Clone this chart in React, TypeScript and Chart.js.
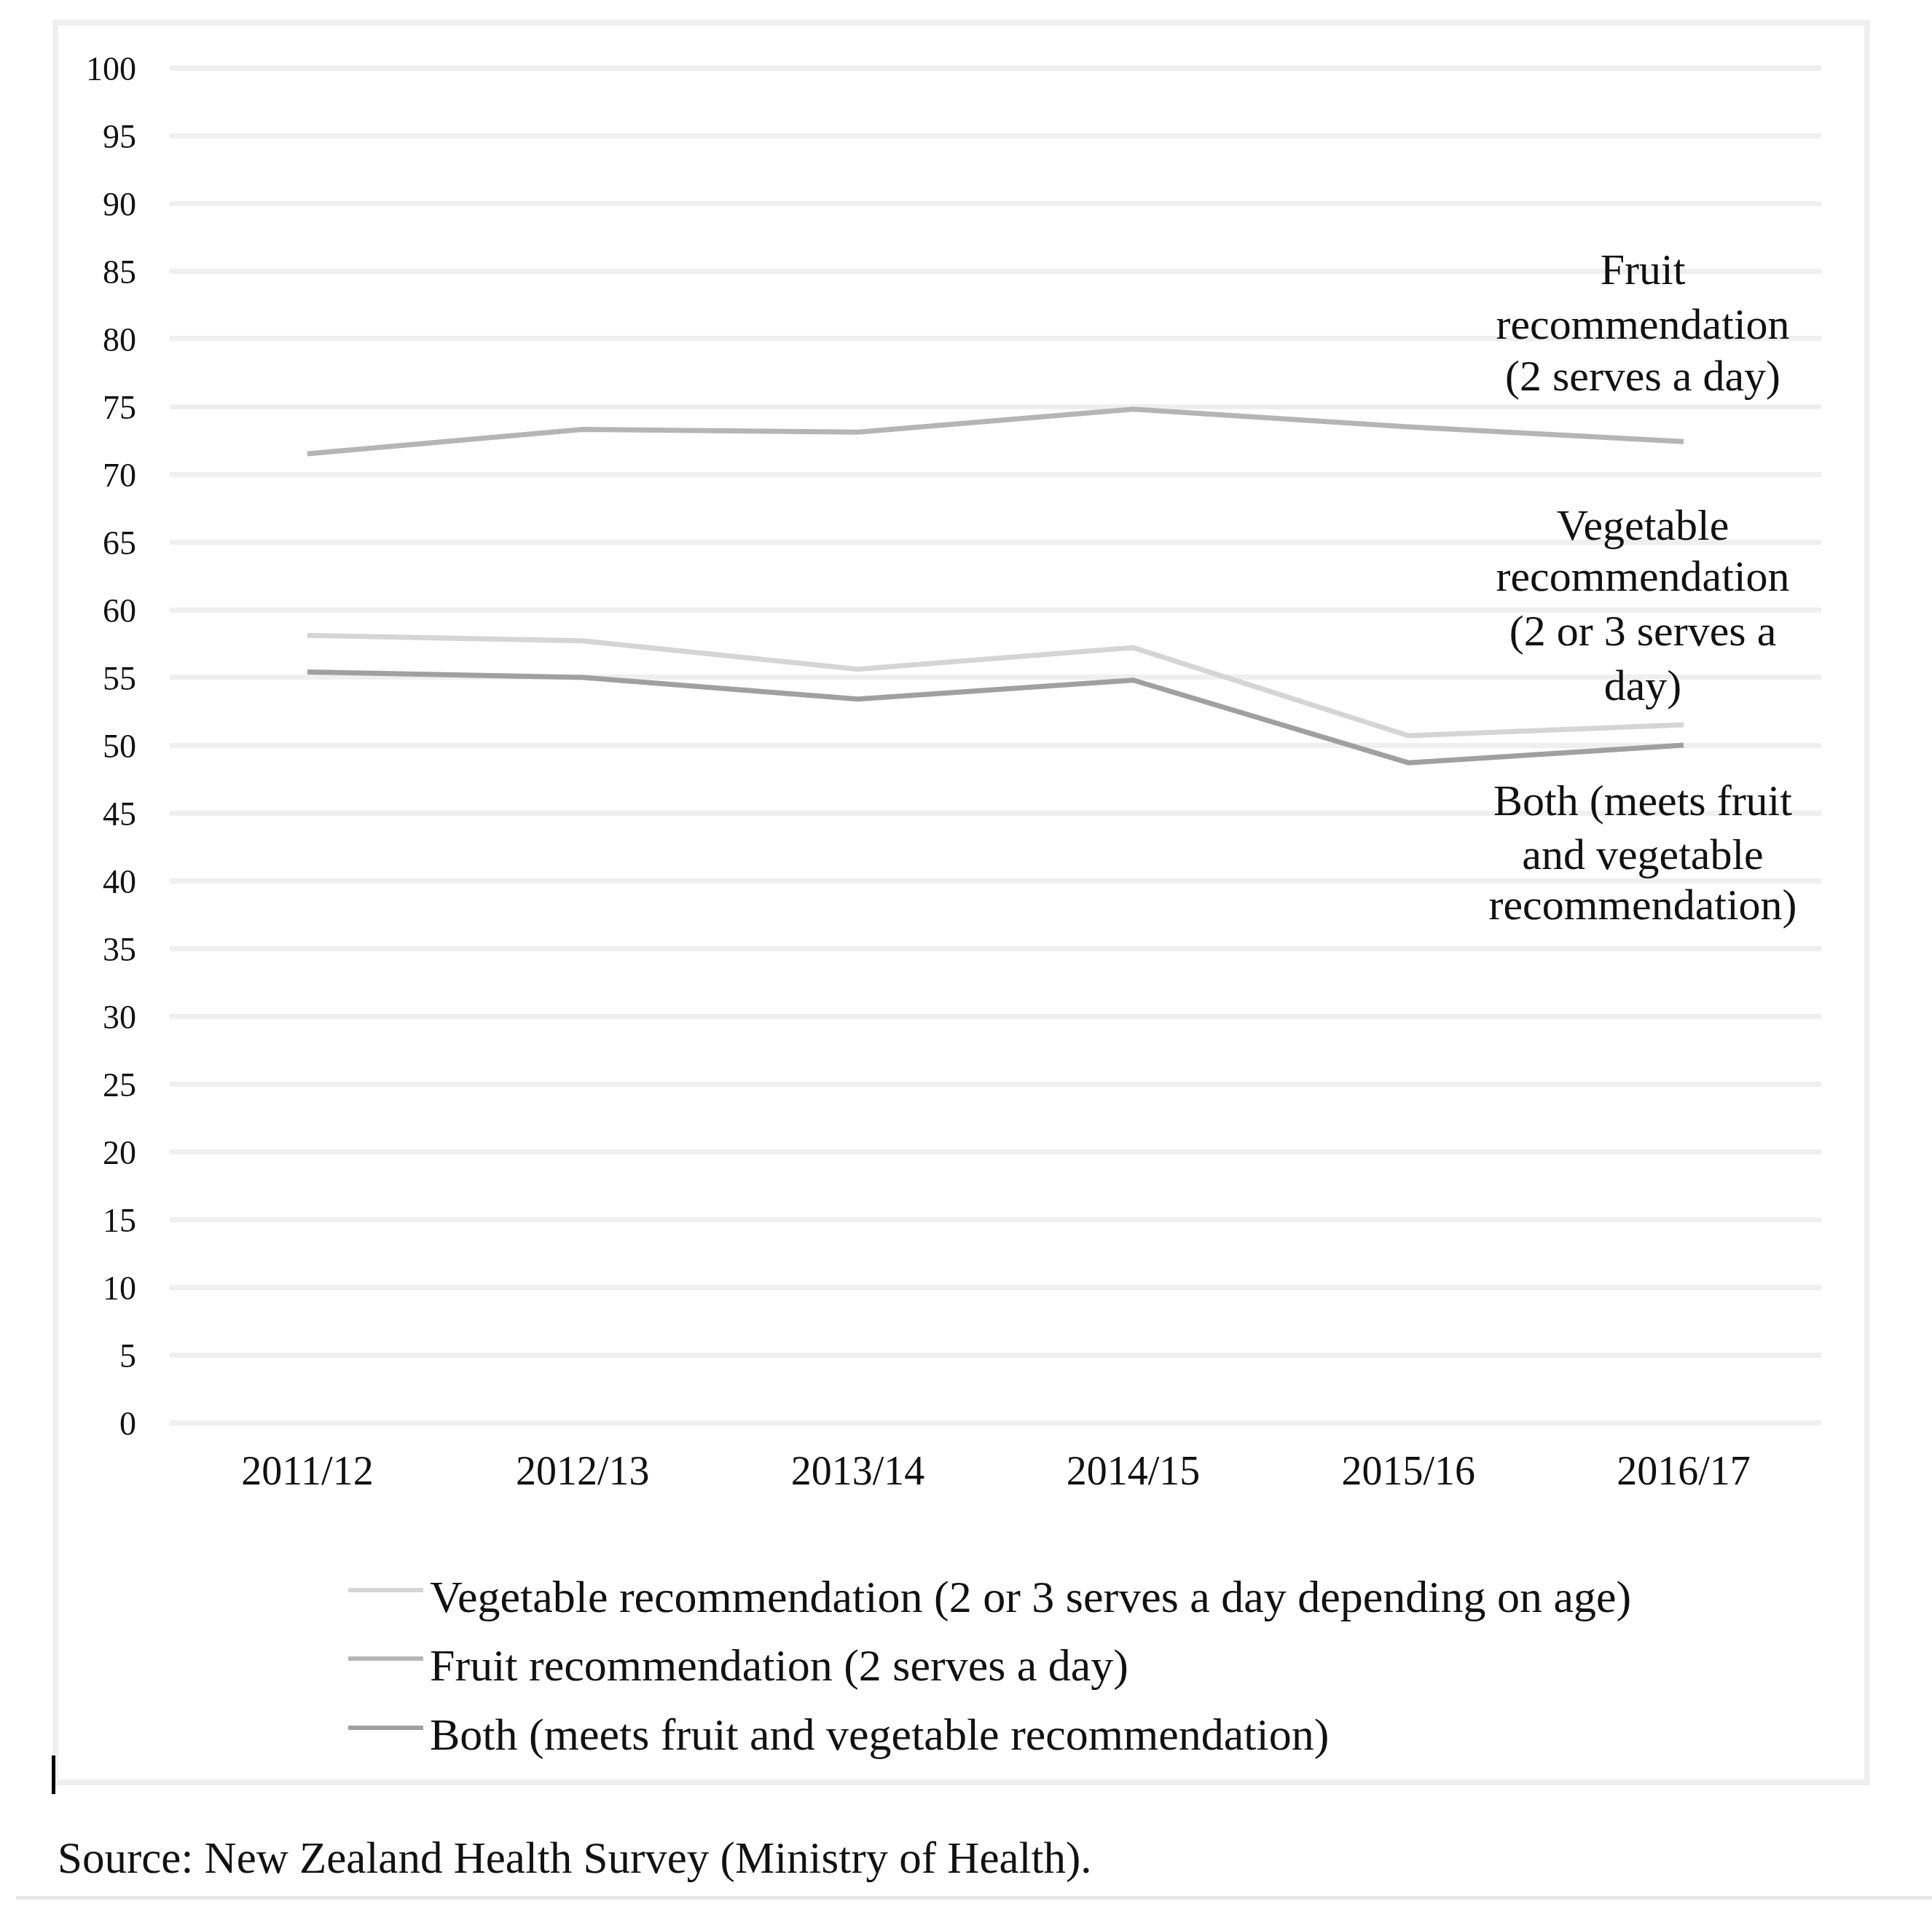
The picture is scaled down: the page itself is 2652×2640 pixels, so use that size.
import React, { useEffect, useRef } from 'react';
import { Chart, registerables } from 'chart.js';

Chart.register(...registerables);

// ---------- data ----------
const categories = ['2011/12', '2012/13', '2013/14', '2014/15', '2015/16', '2016/17'];
const vegetableValues = [58.1, 57.7, 55.6, 57.2, 50.7, 51.5];
const fruitValues = [71.5, 73.3, 73.1, 74.8, 73.5, 72.4];
const bothValues = [55.4, 55.0, 53.4, 54.8, 48.7, 50.0];
const seriesLabels = [
  'Vegetable recommendation (2 or 3 serves a day depending on age)',
  'Fruit recommendation (2 serves a day)',
  'Both (meets fruit and vegetable recommendation)',
];
const yMin = 0;
const yMax = 100;
const yStep = 5;
const fruitNote = ['Fruit', 'recommendation', '(2 serves a day)'];
const vegetableNote = ['Vegetable', 'recommendation', '(2 or 3 serves a', 'day)'];
const bothNote = ['Both (meets fruit', 'and vegetable', 'recommendation)'];
const sourceText = 'Source: New Zealand Health Survey (Ministry of Health).';

// ---------- styles ----------
const SERIF = '"Liberation Serif", "Times New Roman", Times, serif';
const W = 2652;
const H = 2640;
const COLORS = ['#d5d5d5', '#b5b5b5', '#a0a0a0'];

const decorPlugin = {
  id: 'decor',
  beforeDraw(chart: any) {
    const ctx = chart.ctx;
    ctx.save();
    ctx.fillStyle = '#ffffff';
    ctx.fillRect(0, 0, chart.width, chart.height);
    // outer frame
    ctx.strokeStyle = '#efefef';
    ctx.lineWidth = 8;
    ctx.strokeRect(76, 31, 2563 - 76, 2447 - 31);
    // bottom rule
    ctx.fillStyle = '#e8e8e8';
    ctx.fillRect(22, 2603, W - 22, 5);
    // cursor mark
    ctx.fillStyle = '#000000';
    ctx.fillRect(71, 2410, 5, 53);
    ctx.restore();
  },
  afterDraw(chart: any) {
    const ctx = chart.ctx;
    ctx.save();
    // annotations
    ctx.fillStyle = '#111111';
    ctx.textAlign = 'center';
    ctx.textBaseline = 'middle';
    ctx.font = `60px ${SERIF}`;
    const cx = 2255;
    const drawNote = (lines: string[], ys: number[]) => {
      lines.forEach((t, i) => ctx.fillText(t, cx, ys[i]));
    };
    drawNote(fruitNote, [374, 449, 520]);
    drawNote(vegetableNote, [725, 795, 870, 945]);
    drawNote(bothNote, [1103, 1177, 1246]);

    // legend
    const lineYs = [2183, 2277, 2372];
    const baseYs = [2213, 2307, 2402];
    ctx.textAlign = 'left';
    ctx.textBaseline = 'alphabetic';
    ctx.font = `62px ${SERIF}`;
    chart.data.datasets.forEach((ds: any, i: number) => {
      ctx.strokeStyle = ds.borderColor;
      ctx.lineWidth = 6;
      ctx.beginPath();
      ctx.moveTo(478, lineYs[i]);
      ctx.lineTo(581, lineYs[i]);
      ctx.stroke();
      ctx.fillStyle = '#111111';
      ctx.fillText(ds.label, 590, baseYs[i]);
    });

    // source
    ctx.font = `61px ${SERIF}`;
    ctx.fillText(sourceText, 79, 2571);
    ctx.restore();
  },
};

export default function App() {
  const canvasRef = useRef<HTMLCanvasElement | null>(null);

  useEffect(() => {
    const canvas = canvasRef.current;
    if (!canvas) return;
    const seriesValues = [vegetableValues, fruitValues, bothValues];
    const chart = new Chart(canvas, {
      type: 'line',
      data: {
        labels: categories,
        datasets: seriesLabels.map((label, i) => ({
          label,
          data: seriesValues[i],
          borderColor: COLORS[i],
          backgroundColor: COLORS[i],
          borderWidth: 7,
          pointRadius: 0,
          pointHoverRadius: 0,
          tension: 0,
          fill: false,
          borderCapStyle: 'butt' as const,
        })),
      },
      options: {
        responsive: false,
        animation: false,
        devicePixelRatio: 1,
        layout: { padding: { left: 0, top: 93, right: 152, bottom: H - 1953 - 120 } },
        plugins: {
          legend: { display: false },
          tooltip: { enabled: false },
        },
        scales: {
          x: {
            type: 'category',
            offset: true,
            grid: { display: false, drawTicks: false },
            border: { display: false },
            ticks: {
              color: '#111111',
              font: { family: SERIF, size: 56 },
              padding: 37,
              maxRotation: 0,
              autoSkip: false,
            },
            afterFit: (scale: any) => {
              scale.height = 120;
            },
          },
          y: {
            min: yMin,
            max: yMax,
            grid: { color: '#efefef', lineWidth: 7, drawTicks: false },
            border: { display: false },
            ticks: {
              stepSize: yStep,
              color: '#111111',
              font: { family: SERIF, size: 46 },
              padding: 46,
              labelOffset: 5,
            },
            afterFit: (scale: any) => {
              scale.width = 233;
            },
          },
        },
      },
      plugins: [decorPlugin],
    });
    return () => chart.destroy();
  }, []);

  return (
    <div style={{ position: 'absolute', left: 0, top: 0, width: W, height: H, background: '#fff' }}>
      <canvas ref={canvasRef} width={W} height={H} style={{ width: W, height: H, display: 'block' }} />
    </div>
  );
}
